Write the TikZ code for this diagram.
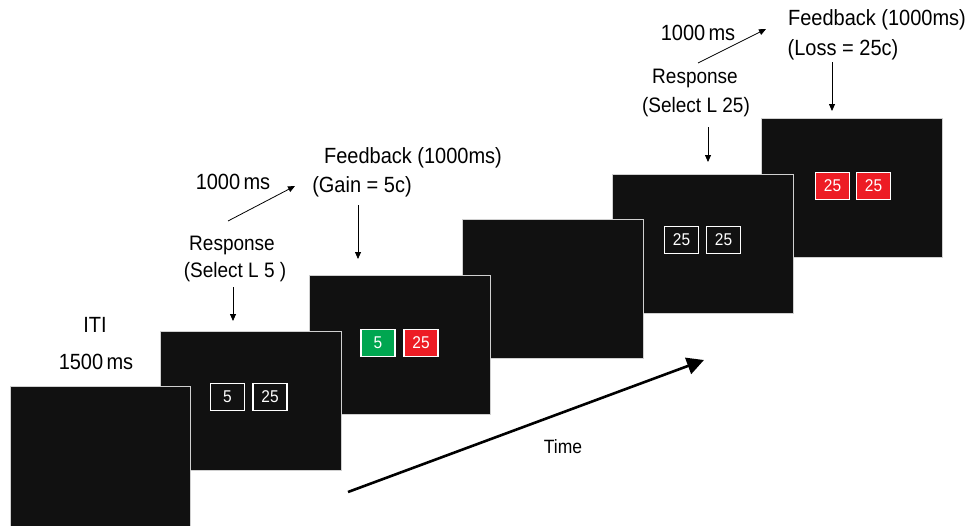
\documentclass[tikz,border=0pt]{standalone}
\usepackage{fontspec}
\usepackage{graphicx}
\setmainfont{Liberation Sans}
\usetikzlibrary{arrows.meta}
\definecolor{scr}{HTML}{111111}
\definecolor{scrline}{HTML}{D0D0D0}
\definecolor{gbox}{HTML}{00A650}
\definecolor{rbox}{HTML}{ED1C24}
\newcommand{\vst}[1]{\scalebox{1}[1.1]{#1}}
\tikzset{
  screen/.style={rectangle, draw=scrline, line width=0.9pt, fill=scr, minimum width=181pt, minimum height=139pt, inner sep=0pt},
  numbox/.style={rectangle, draw=white, line width=1.4pt, minimum width=34pt, minimum height=27pt, inner sep=0pt, text=white, font=\fontsize{15.5}{18}\selectfont},
  lbl/.style={inner sep=0pt, font=\fontsize{20}{24}\selectfont},
  lblsm/.style={inner sep=0pt, font=\fontsize{19}{22}\selectfont},
  arr/.style={line width=0.8pt, -{Triangle[length=7pt,width=6pt]}},
  timearr/.style={line width=2.6pt, -{Triangle[length=17pt,width=17pt]}}
}
\begin{document}
\begin{tikzpicture}[x=1pt,y=-1pt]
\useasboundingbox (0,0) rectangle (974,525);
% screens, back to front
\node[screen] (s6) at (851.5,187.5) {};
\node[screen] (s5) at (702.5,243.5) {};
\node[screen] (s4) at (552.5,288.5) {};
\node[screen] (s3) at (399.5,344.5) {};
\node[screen] (s2) at (250.5,400.5) {};
\node[screen, minimum width=180pt, minimum height=141pt] (s1) at (100,456.5) {};
% boxes
\node[numbox] (r1a) at (227.5,397) {\vst{5}};
\node[numbox] (r1b) at (270,397) {\vst{25}};
\node[numbox, fill=gbox] (f1a) at (378,343) {\vst{5}};
\node[numbox, fill=rbox] (f1b) at (421,343) {\vst{25}};
\node[numbox] (r2a) at (681.5,240) {\vst{25}};
\node[numbox] (r2b) at (723.5,240) {\vst{25}};
\node[numbox, fill=rbox] (f2a) at (832.5,186) {\vst{25}};
\node[numbox, fill=rbox] (f2b) at (873.5,186) {\vst{25}};
% left labels
\node[lbl] (iti) at (95,325) {\vst{ITI}};
\node[lbl] (iti2) at (96,362) {\vst{1500\,ms}};
\node[lblsm] (resp1) at (232,245) {\vst{Response}};
\node[lblsm] (sel1) at (235,272) {\vst{(Select L 5 )}};
\node[lbl] (ms1) at (233,182) {\vst{1000\,ms}};
\node[lbl] (fb1) at (413,158) {\vst{Feedback (1000ms)}};
\node[lbl] (gain) at (362,187) {\vst{(Gain = 5c)}};
% right labels
\node[lbl] (ms2) at (698,33) {\vst{1000\,ms}};
\node[lbl] (fb2) at (877,20) {\vst{Feedback (1000ms)}};
\node[lbl] (loss) at (843,50) {\vst{(Loss = 25c)}};
\node[lblsm] (resp2) at (695,78) {\vst{Response}};
\node[lblsm] (sel2) at (696,107) {\vst{(Select L 25)}};
\node[inner sep=0pt, font=\fontsize{17.5}{21}\selectfont] (time) at (563,447) {\vst{Time}};
% arrow end points
\coordinate (a1s) at (233,287); \coordinate (a1e) at (233,321);
\coordinate (d1s) at (228,221); \coordinate (d1e) at (295,186);
\coordinate (a2s) at (358,205); \coordinate (a2e) at (358,259);
\coordinate (a3s) at (708,127); \coordinate (a3e) at (708,162);
\coordinate (d2s) at (698,63);  \coordinate (d2e) at (766,29);
\coordinate (a4s) at (832,62);  \coordinate (a4e) at (832,111);
\coordinate (ts) at (348,492);  \coordinate (te) at (704,360);
\draw[arr] (a1s) -- (a1e);
\draw[arr] (d1s) -- (d1e);
\draw[arr] (a2s) -- (a2e);
\draw[arr] (a3s) -- (a3e);
\draw[arr] (d2s) -- (d2e);
\draw[arr] (a4s) -- (a4e);
\draw[timearr] (ts) -- (te);
\end{tikzpicture}
\end{document}
